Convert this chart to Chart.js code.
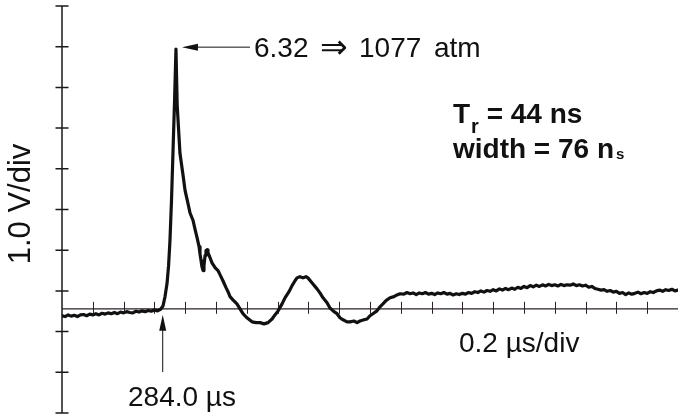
<!DOCTYPE html>
<html lang="en">
<head>
    <meta charset="UTF-8">
    <title>Pressure pulse trace</title>
    <script src="https://cdn.jsdelivr.net/npm/chart.js"></script>
    <style>
        body { margin: 0; background: #fff; }
        canvas { display: block; }
    </style>
</head>
<body>
    <canvas id="scope" width="678" height="416"></canvas>

    <script>
        // time from left edge of the screen (us), 0.2 us/div
        const timeUs = [
            0.00, 0.02, 0.04, 0.06, 0.08, 0.10, 0.12, 0.14, 0.16, 0.18, 0.20, 0.22, 0.24, 0.26, 0.28, 0.30, 0.32,
            0.34, 0.36, 0.38, 0.40, 0.42, 0.44, 0.46, 0.48, 0.50, 0.52, 0.54, 0.56, 0.58, 0.60, 0.62, 0.64,
            0.656, 0.669, 0.682, 0.692, 0.701, 0.711, 0.721, 0.731, 0.740,
            0.748, 0.766, 0.786, 0.799, 0.818, 0.831, 0.851, 0.864, 0.877, 0.890, 0.896, 0.903, 0.909, 0.916,
            0.922, 0.929, 0.935, 0.942, 0.948, 0.961, 0.974, 0.994, 1.013, 1.026, 1.045, 1.065, 1.078, 1.091, 1.110,
            1.136, 1.156, 1.175, 1.201, 1.234, 1.260, 1.286, 1.312, 1.338, 1.364, 1.383, 1.403, 1.429, 1.448, 1.474,
            1.494, 1.513, 1.526, 1.545, 1.565, 1.584, 1.597, 1.623, 1.656, 1.675, 1.695, 1.721, 1.740, 1.766, 1.786,
            1.805, 1.825, 1.851, 1.870, 1.896, 1.916, 1.935, 1.961, 1.981, 2.000, 2.019, 2.045, 2.065, 2.084, 2.104,
            2.130, 2.156, 2.175, 2.195,
            2.22, 2.24, 2.26, 2.28, 2.30, 2.32, 2.34, 2.36, 2.38, 2.40, 2.42, 2.44, 2.46, 2.48, 2.50, 2.52, 2.54,
            2.56, 2.58, 2.60, 2.62, 2.64, 2.66, 2.68, 2.70, 2.72, 2.74, 2.76, 2.78, 2.80, 2.82, 2.84, 2.86, 2.88,
            2.90, 2.92, 2.94, 2.96, 2.98, 3.00, 3.02, 3.04, 3.06, 3.08, 3.10, 3.12, 3.14, 3.16, 3.18, 3.20, 3.22,
            3.24, 3.26, 3.28, 3.30, 3.32, 3.34, 3.36, 3.38, 3.40, 3.42, 3.44, 3.46, 3.48, 3.50, 3.52, 3.54, 3.56,
            3.58, 3.60, 3.62, 3.64, 3.66, 3.68, 3.70, 3.72, 3.74, 3.76, 3.78, 3.80, 3.82, 3.84, 3.86, 3.88, 3.90,
            3.92, 3.94, 3.96, 3.98, 4.00
        ];

        // signal (V), 1.0 V/div
        const signalV = [
            -0.17, -0.19, -0.15, -0.18, -0.16, -0.19, -0.15, -0.14, -0.17, -0.13, -0.15, -0.12, -0.15, -0.11, -0.13, -0.10, -0.12,
            -0.09, -0.12, -0.08, -0.10, -0.07, -0.09, -0.10, -0.06, -0.08, -0.05, -0.07, -0.04, -0.06, -0.03, -0.05, -0.01,
            0.07, 0.30, 0.62, 1.06, 1.67, 2.66, 3.89, 5.12, 6.38,
            5.00, 3.82, 3.28, 2.91, 2.59, 2.36, 2.17, 1.95, 1.75, 1.53, 1.35, 1.18, 1.03, 0.94,
            1.06, 1.31, 1.43, 1.45, 1.38, 1.26, 1.13, 1.01, 0.94, 0.84, 0.69, 0.52, 0.42, 0.30, 0.22,
            0.12, 0.00, -0.12, -0.22, -0.32, -0.34, -0.34, -0.37, -0.34, -0.25, -0.15, -0.05, 0.12, 0.27, 0.42,
            0.57, 0.69, 0.76, 0.79, 0.76, 0.79, 0.76, 0.64, 0.49, 0.39, 0.27, 0.15, 0.02, -0.07, -0.12,
            -0.22, -0.27, -0.32, -0.32, -0.30, -0.34, -0.30, -0.27, -0.25, -0.17, -0.12, -0.05, 0.05, 0.12, 0.20,
            0.27, 0.30, 0.34, 0.37,
            0.36, 0.40, 0.37, 0.39, 0.35, 0.39, 0.37, 0.40, 0.36, 0.38, 0.35, 0.39, 0.37, 0.40, 0.36, 0.38, 0.34,
            0.37, 0.35, 0.38, 0.36, 0.40, 0.38, 0.42, 0.40, 0.44, 0.41, 0.45, 0.43, 0.47, 0.44, 0.49, 0.46, 0.50,
            0.47, 0.51, 0.48, 0.53, 0.50, 0.55, 0.52, 0.57, 0.54, 0.58, 0.55, 0.59, 0.56, 0.60, 0.57, 0.59, 0.56,
            0.60, 0.57, 0.59, 0.58, 0.61, 0.57, 0.59, 0.56, 0.58, 0.53, 0.55, 0.50, 0.48, 0.46, 0.47, 0.43, 0.45,
            0.41, 0.43, 0.38, 0.40, 0.35, 0.39, 0.36, 0.38, 0.41, 0.37, 0.40, 0.38, 0.42, 0.40, 0.44, 0.46, 0.43,
            0.47, 0.45, 0.48, 0.44, 0.46
        ];

        // graticule marks
        const voltTicks = [-2.56, -1.56, -0.56, 0.44, 1.44, 2.44, 3.44, 4.44, 5.44, 6.44, 7.44];
        const timeTicks = [0.2, 0.4, 0.6, 0.8, 1.0, 1.2, 1.4, 1.6, 1.8, 2.0, 2.2, 2.4, 2.6, 2.8, 3.0, 3.2, 3.4, 3.6, 3.8];

        // annotated points
        const triggerUs = 0.654;
        const peakUs = 0.740;
        const peakV = 6.38;

        const font = '"Liberation Sans", Arial, Helvetica, sans-serif';

        function arrowHead(ctx, tipX, tipY, dx, dy, len, half) {
            // dx,dy = unit direction the arrow points to
            ctx.beginPath();
            ctx.moveTo(tipX, tipY);
            ctx.lineTo(tipX - dx * len - dy * half, tipY - dy * len + dx * half);
            ctx.lineTo(tipX - dx * len + dy * half, tipY - dy * len - dx * half);
            ctx.closePath();
            ctx.fill();
        }

        const scopeFrame = {
            id: 'scopeFrame',
            beforeDatasetsDraw(chart) {
                const { ctx, chartArea: a, scales: { x, y } } = chart;
                ctx.save();

                // vertical axis with crossing ticks
                ctx.strokeStyle = '#1a1a1a';
                ctx.lineWidth = 1.5;
                ctx.beginPath();
                ctx.moveTo(a.left, y.getPixelForValue(voltTicks[0]));
                ctx.lineTo(a.left, y.getPixelForValue(voltTicks[voltTicks.length - 1]));
                voltTicks.forEach(v => {
                    const py = y.getPixelForValue(v);
                    ctx.moveTo(a.left - 6.5, py);
                    ctx.lineTo(a.left + 6.5, py);
                });
                ctx.stroke();

                // zero line with time ticks
                const zy = y.getPixelForValue(0);
                ctx.strokeStyle = '#2a2028';
                ctx.lineWidth = 1.3;
                ctx.beginPath();
                ctx.moveTo(a.left, zy);
                ctx.lineTo(a.right, zy);
                ctx.stroke();
                ctx.lineWidth = 1;
                ctx.beginPath();
                timeTicks.forEach(t => {
                    const px = Math.round(x.getPixelForValue(t)) + 0.5;
                    ctx.moveTo(px, zy - 7);
                    ctx.lineTo(px, zy + 5);
                });
                ctx.stroke();
                ctx.restore();
            },
            afterDraw(chart) {
                const { ctx, scales: { x, y } } = chart;
                ctx.save();
                ctx.fillStyle = '#111';
                ctx.strokeStyle = '#111';

                // peak arrow + label
                const tipX = x.getPixelForValue(peakUs) + 6;
                const tipY = y.getPixelForValue(peakV) - 2;
                ctx.lineWidth = 1;
                ctx.beginPath();
                ctx.moveTo(tipX + 10, tipY);
                ctx.lineTo(250, tipY);
                ctx.stroke();
                arrowHead(ctx, tipX, tipY, -1, 0, 16, 3.5);
                ctx.font = '28px ' + font;
                ctx.textBaseline = 'alphabetic';
                ctx.fillText('6.32', 254, 57);
                ctx.fillText('1077', 359, 57);
                ctx.fillText('atm', 434, 57);
                ctx.font = '33px ' + font;
                ctx.fillText('\u21D2', 320, 58);

                // trigger arrow + label
                ctx.font = '28px ' + font;
                const trigX = x.getPixelForValue(triggerUs);
                const zy = y.getPixelForValue(0);
                ctx.beginPath();
                ctx.moveTo(trigX, zy + 16);
                ctx.lineTo(trigX, 372);
                ctx.stroke();
                arrowHead(ctx, trigX, zy + 6, 0, -1, 16, 3.5);
                ctx.fillText('284.0 \u00B5s', 128, 406);

                // axis labels
                ctx.fillText('0.2 \u00B5s/div', 459, 352);
                ctx.save();
                ctx.translate(21, 204);
                ctx.rotate(-Math.PI / 2);
                ctx.textAlign = 'center';
                ctx.textBaseline = 'middle';
                ctx.font = '31px ' + font;
                ctx.fillText('1.0 V/div', 0, 0);
                ctx.restore();

                // rise time / width
                ctx.font = 'bold 28px ' + font;
                ctx.fillText('T', 453, 123);
                let cx = 453 + ctx.measureText('T').width;
                ctx.font = 'bold 20px ' + font;
                ctx.fillText('r', cx + 1, 133);
                cx += 1 + ctx.measureText('r').width;
                ctx.font = 'bold 28px ' + font;
                ctx.fillText(' = 44 ns', cx, 123);

                ctx.fillText('width = 76 n', 453, 158);
                cx = 453 + ctx.measureText('width = 76 n').width;
                ctx.font = 'bold 15px ' + font;
                ctx.fillText('s', cx + 2, 159);

                ctx.restore();
            }
        };

        new Chart(document.getElementById('scope').getContext('2d'), {
            type: 'line',
            data: {
                datasets: [{
                    data: timeUs.map((t, i) => ({ x: t, y: signalV[i] })),
                    borderColor: '#111',
                    borderWidth: 3.2,
                    borderJoinStyle: 'round',
                    borderCapStyle: 'round',
                    pointRadius: 0,
                    tension: 0
                }]
            },
            options: {
                responsive: false,
                animation: false,
                events: [],
                layout: { padding: { left: 62, top: 6, right: 0, bottom: 3 } },
                plugins: { legend: { display: false }, tooltip: { enabled: false } },
                scales: {
                    x: { type: 'linear', min: 0, max: 4.0, display: false },
                    y: { min: voltTicks[0], max: voltTicks[voltTicks.length - 1], display: false }
                }
            },
            plugins: [scopeFrame]
        });
    </script>
</body>
</html>
